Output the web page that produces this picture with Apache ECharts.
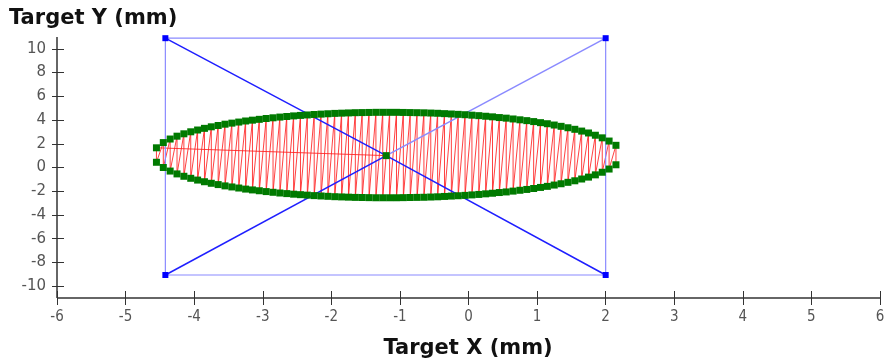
<!DOCTYPE html>
<html>
<head>
<meta charset="utf-8">
<script src="https://cdn.jsdelivr.net/npm/echarts@6/dist/echarts.min.js"></script>
<style>
  html, body { margin: 0; padding: 0; background: #fff; }
  #chart { width: 894px; height: 362px; }
</style>
</head>
<body>
<div id="chart"></div>
<script>
// Scan positions (mm): x of each scan column, with the upper and lower turning points
const scanX = [-4.55,-4.45,-4.35,-4.25,-4.15,-4.05,-3.95,-3.85,-3.75,-3.65,-3.55,-3.45,-3.35,-3.25,-3.15,-3.05,-2.95,-2.85,-2.75,-2.65,-2.55,-2.45,-2.35,-2.25,-2.15,-2.05,-1.95,-1.85,-1.75,-1.65,-1.55,-1.45,-1.35,-1.25,-1.15,-1.05,-0.95,-0.85,-0.75,-0.65,-0.55,-0.45,-0.35,-0.25,-0.15,-0.05,0.05,0.15,0.25,0.35,0.45,0.55,0.65,0.75,0.85,0.95,1.05,1.15,1.25,1.35,1.45,1.55,1.65,1.75,1.85,1.95,2.05,2.15];
const scanTopY = [1.66,2.10,2.40,2.64,2.84,3.01,3.16,3.30,3.43,3.54,3.65,3.74,3.83,3.92,3.99,4.06,4.13,4.19,4.25,4.30,4.35,4.39,4.43,4.47,4.50,4.53,4.56,4.58,4.60,4.62,4.63,4.64,4.65,4.65,
                  4.65,4.65,4.64,4.63,4.62,4.61,4.59,4.57,4.54,4.51,4.48,4.45,4.41,4.37,4.32,4.27,4.21,4.16,4.09,4.02,3.95,3.87,3.78,3.69,3.58,3.47,3.35,3.22,3.07,2.91,2.72,2.50,2.23,1.87];
const scanBottomY = [0.44,0.00,-0.30,-0.54,-0.74,-0.91,-1.06,-1.20,-1.33,-1.44,-1.55,-1.64,-1.73,-1.82,-1.89,-1.96,-2.03,-2.09,-2.15,-2.20,-2.25,-2.29,-2.33,-2.37,-2.40,-2.43,-2.46,-2.48,-2.50,-2.52,-2.53,-2.54,-2.55,-2.55,
                     -2.55,-2.55,-2.54,-2.53,-2.52,-2.51,-2.49,-2.47,-2.44,-2.41,-2.38,-2.35,-2.31,-2.27,-2.22,-2.17,-2.11,-2.06,-1.99,-1.92,-1.85,-1.77,-1.68,-1.59,-1.48,-1.37,-1.25,-1.12,-0.97,-0.81,-0.62,-0.40,-0.13,0.23];
// Beam centre (mm)
const beamCenter = [-1.2, 1.0];
// Target frame corners (mm)
const frameXs = [-4.42, 2.0];
const frameYs = [-9.06, 10.9];
// Axis ranges and ticks
const xRange = [-6, 6];
const yRange = [-11, 11];
const yTickValues = [-10,-8,-6,-4,-2,0,2,4,6,8,10];

const TL = [frameXs[0], frameYs[1]];
const TR = [frameXs[1], frameYs[1]];
const BR = [frameXs[1], frameYs[0]];
const BL = [frameXs[0], frameYs[0]];

// zig-zag raster path: centre -> first column, then top/bottom alternately
const scanPath = [beamCenter.slice()];
const turnPoints = [];
for (let i = 0; i < scanX.length; i++) {
  scanPath.push([scanX[i], scanTopY[i]]);
  scanPath.push([scanX[i], scanBottomY[i]]);
  turnPoints.push([scanX[i], scanTopY[i]]);
  turnPoints.push([scanX[i], scanBottomY[i]]);
}
turnPoints.push(beamCenter.slice());

const lightBlue = '#8a8aff';
const darkBlue = '#1f1fff';
const axisColor = '#333';
const xLabelFont = '"DejaVu Sans Condensed", "Liberation Sans Narrow", "DejaVu Sans", sans-serif';

// Axes are shifted 7px into the plot with long outward ticks, so each tick
// crosses the axis line; the axis lines themselves are drawn as markLines
// on the plot edges.
const TICK_SHIFT = 7;

const chart = echarts.init(document.getElementById('chart'), null, { renderer: 'canvas' });
chart.setOption({
  animation: false,
  backgroundColor: '#fff',
  grid: { left: 57, right: 14, top: 37, bottom: 64 },
  xAxis: {
    type: 'value', min: xRange[0], max: xRange[1], interval: 1, position: 'bottom', offset: -TICK_SHIFT,
    axisLine: { show: true, onZero: false, lineStyle: { color: 'rgba(0,0,0,0)', width: 1 } },
    axisTick: { show: true, length: 14, lineStyle: { color: axisColor, width: 1 } },
    axisLabel: { show: true, margin: 12 + TICK_SHIFT, color: '#555', fontSize: 15, fontFamily: xLabelFont },
    splitLine: { show: false }
  },
  yAxis: {
    type: 'value', min: yRange[0], max: yRange[1], position: 'left', offset: -TICK_SHIFT,
    axisLine: { show: true, onZero: false, lineStyle: { color: 'rgba(0,0,0,0)', width: 1 } },
    axisTick: { show: true, length: 12, customValues: yTickValues, lineStyle: { color: axisColor, width: 1 } },
    axisLabel: { show: true, margin: 11 + TICK_SHIFT, color: '#555', fontSize: 15,
                 fontFamily: '"DejaVu Sans", sans-serif', customValues: yTickValues },
    splitLine: { show: false }
  },
  series: [
    {
      name: 'scan', type: 'line', data: scanPath, showSymbol: false, symbol: 'none',
      lineStyle: { color: '#ff2020', width: 1, opacity: 0.85 }, z: 1, silent: true
    },
    {
      name: 'frame', type: 'line', data: [TL, TR, BR, BL, TL], symbol: 'none',
      lineStyle: { color: lightBlue, width: 1.2 }, z: 2, silent: true,
      markLine: {
        silent: true, symbol: 'none', animation: false,
        label: { show: false },
        lineStyle: { color: axisColor, width: 1.5, type: 'solid' },
        emphasis: { disabled: true },
        data: [{ xAxis: xRange[0] }, { yAxis: yRange[0] }]
      }
    },
    {
      name: 'diagonal', type: 'line', data: [TL, beamCenter, BR], symbol: 'none',
      lineStyle: { color: darkBlue, width: 1.5 }, z: 3, silent: true
    },
    {
      name: 'diagonal-lower', type: 'line', data: [BL, beamCenter], symbol: 'none',
      lineStyle: { color: darkBlue, width: 1.5 }, z: 3, silent: true
    },
    {
      name: 'diagonal-upper', type: 'line', data: [beamCenter, TR], symbol: 'none',
      lineStyle: { color: lightBlue, width: 1.5 }, z: 3, silent: true
    },
    {
      name: 'corners', type: 'scatter', data: [TL, TR, BR, BL], symbol: 'rect', symbolSize: 6,
      itemStyle: { color: '#0000ff', opacity: 1 }, z: 4, silent: true
    },
    {
      name: 'turns', type: 'scatter', data: turnPoints, symbol: 'rect', symbolSize: 7,
      itemStyle: { color: '#007a00', opacity: 1 }, z: 5, silent: true
    }
  ],
  graphic: [
    {
      type: 'text', left: 9, top: 8,
      style: { text: 'Target Y (mm)', font: 'bold 21px "DejaVu Sans", sans-serif', fill: '#111' }
    },
    {
      type: 'text', x: 468, y: 349,
      style: { text: 'Target X (mm)', font: 'bold 21px "DejaVu Sans", sans-serif', fill: '#111',
               textAlign: 'center', textVerticalAlign: 'middle' }
    }
  ]
});
</script>
</body>
</html>
